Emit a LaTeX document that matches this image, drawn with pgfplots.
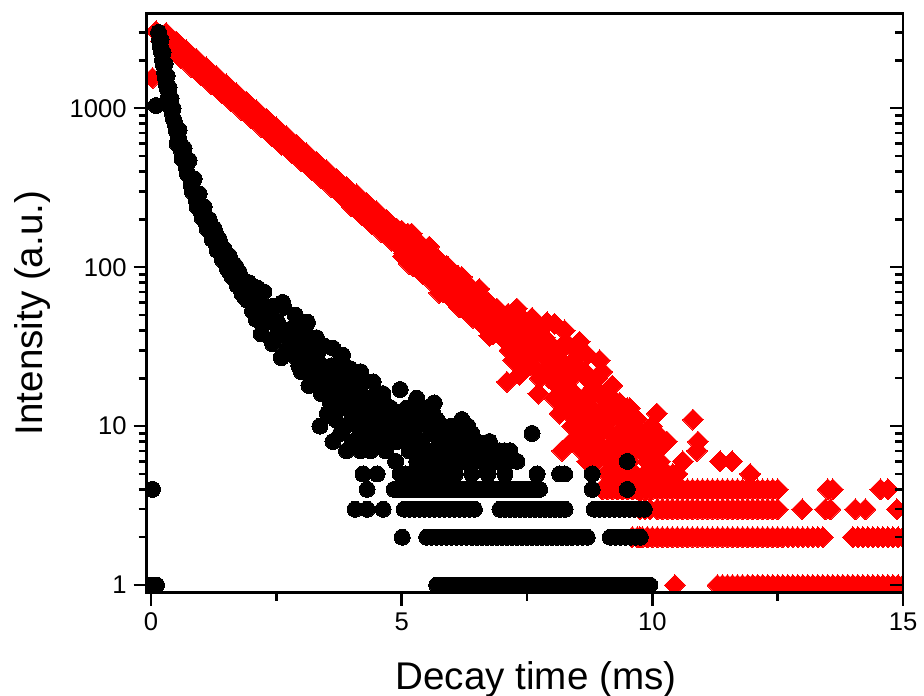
\documentclass[border=0pt]{standalone}
\usepackage{pgfplots}
\pgfplotsset{compat=1.18}
\usepackage{fontspec}
\setmainfont{Liberation Sans}
\begin{document}
\begin{tikzpicture}
\begin{axis}[scale only axis, width=378.15pt, height=289.7pt,
  xmin=-0.086, xmax=15, ymode=log, ymin=0.895, ymax=3960,
  axis line style={line width=1.4pt},
  tick style={line width=1.2pt, black},
  major tick length=6.5pt, minor tick length=4pt,
  ytick={1,10,100,1000},
  minor ytick={2,3,4,5,6,7,8,9,20,30,40,50,60,70,80,90,200,300,400,500,600,700,800,900,2000,3000},
  xtick={0,5,10,15}, minor xtick={2.5,7.5,12.5},
  yticklabels={1,10,100,1000},
  xtick pos=bottom, ytick pos=left, tick align=outside,
  tick label style={font=\fontsize{12.8}{15}\selectfont},
  /pgf/number format/assume math mode=true,
  xlabel={Decay time (ms)}, ylabel={Intensity (a.u.)},
  label style={font=\fontsize{19.3}{23}\selectfont},
  xlabel style={at={(axis description cs:0.5147,-0.1662)}, anchor=base},
  ylabel style={at={(axis description cs:-0.1384,0.4827)}, anchor=base},
  clip marker paths=true,
]
\coordinate (SW) at (rel axis cs:0,0);
\coordinate (NE) at (rel axis cs:1,1);
% red series (slow decay)
\addplot[only marks, mark=square*, mark size=3.7pt, mark options={rotate=45, draw=red, fill=red, line width=0pt}] coordinates {
(0.03,1550)
(0.10,3050)(0.15,2950)(0.25,2870)(0.35,2600)(0.45,2520)(0.50,2350)(0.55,2290)(0.65,2230)(0.75,2020)(0.85,1990)(0.95,1790)(1.00,1850)
(1.05,1740)(1.15,1580)(1.25,1540)(1.35,1400)(1.45,1360)(1.55,1230)(1.60,1150)(1.65,1200)(1.75,1090)(1.85,1060)(1.95,960)
(2.05,935)(2.10,960)(2.15,850)(2.25,830)(2.35,750)(2.45,730)(2.55,690)(2.60,590)(2.65,620)(2.75,610)(2.85,545)(2.95,540)
(3.05,480)(3.10,520)(3.15,475)(3.25,445)(3.35,400)(3.45,395)(3.55,350)(3.60,330)(3.65,348)(3.75,312)(3.85,308)(3.90,320)(3.95,275)
(4.05,272)(4.15,242)(4.25,240)(4.30,215)(4.35,226)(4.45,200)(4.55,200)(4.60,205)(4.65,178)(4.75,177)(4.85,155)(4.90,140)(4.95,158)
(0.2,2646)(0.3,2979)(0.4,2337)(0.5,2630)(0.6,2064)(0.7,2323)(0.8,1822)(0.9,2051)(1.0,1609)(1.1,1810)(1.2,1421)(1.3,1599)(1.4,1255)(1.5,1413)(1.6,1108)(1.7,1247)(1.8,978)(1.9,1101)
(2.0,865)(2.1,972)(2.2,763)(2.3,859)(2.4,673)(2.5,759)(2.6,595)(2.7,669)(2.8,525)(2.9,592)(3.0,464)(3.1,522)(3.2,410)(3.3,461)(3.4,362)(3.5,408)(3.6,319)(3.7,360)(3.8,282)(3.9,317)
(4.0,241)(4.1,288)(4.2,213)(4.3,254)(4.4,188)(4.5,225)(4.6,166)(4.7,198)(4.8,147)(4.9,175)
(5.00,170)(5.05,122)(5.10,145)(5.15,105)(5.20,163)(5.25,120)(5.30,107)(5.35,142)(5.40,92)(5.45,122)(5.50,99)(5.55,135)(5.60,84)(5.65,98)(5.70,112)(5.75,69)(5.80,96)(5.85,78)(5.90,102)(5.95,70)
(6.00,91)(6.05,65)(6.10,78)(6.15,56)(6.20,87)(6.25,64)(6.30,58)(6.35,76)(6.40,49)(6.45,66)(6.50,53)(6.55,73)(6.60,45)(6.65,53)(6.70,60)(6.75,37)(6.80,52)(6.85,42)(6.90,55)(6.95,38)
(5.025,117)(5.125,163)(5.225,102)(5.325,144)(5.425,90)(5.525,127)(5.625,80)(5.725,112)(5.825,70)(5.925,100)
(6.025,62)(6.125,88)(6.225,55)(6.325,77)(6.425,48)(6.525,68)(6.625,43)(6.725,60)(6.825,38)(6.925,53)
(7.00,49)(7.05,35)(7.10,42)(7.15,30)(7.20,47)(7.25,34)(7.30,31)(7.35,41)(7.40,26)(7.45,35)(7.50,29)(7.55,39)(7.60,24)(7.65,28)(7.70,32)(7.75,20)(7.80,28)(7.85,22)(7.90,30)(7.95,20)
(7.025,38)(7.125,51)(7.225,26)(7.325,38)(7.425,47)(7.525,24)(7.625,29)(7.725,16)(7.825,32)(7.925,23)
(8.025,20)(8.125,27)(8.225,14)(8.325,20)(8.425,25)(8.525,13)(8.625,15)(8.725,9)(8.825,17)(8.925,12)
(9.025,10)(9.125,13)(9.225,6)(9.325,9)(9.425,12)(9.525,6)(9.625,7)(9.725,4)(9.825,7)(9.925,5)
(8.00,32)(8.05,15)(8.10,24)(8.15,12)(8.20,32)(8.25,18)(8.30,14)(8.35,24)(8.40,10)(8.45,21)(8.50,13)(8.55,29)(8.60,10)(8.65,15)(8.70,20)(8.75,7)(8.80,16)(8.85,11)(8.90,20)(8.95,9)
(9.00,15)(9.05,7)(9.10,11)(9.15,6)(9.20,15)(9.25,8)(9.30,7)(9.35,11)(9.40,4)(9.45,9)(9.50,6)(9.55,13)(9.60,4)(9.65,7)(9.70,9)(9.75,3)(9.80,7)(9.85,5)(9.90,8)(9.95,4)
(7.1,19)(7.35,21)(7.3,55)(7.6,48)(7.9,45)(8.05,44)(8.25,40)(8.55,34)(8.2,7)(8.4,8)(8.6,7)(8.9,6)(9.0,22)(9.2,18)(9.5,13)(9.7,11)
(8.5,8)(8.7,6)(8.8,9)(9.05,10)(9.25,12)(9.4,7)(9.65,10)(9.9,6)(9.45,5)(9.2,5)(8.3,33)(8.7,28)(8.95,26)
(8.35,12)(8.45,16)(8.55,11)(8.65,22)(8.75,13)(8.85,8)(8.95,16)(9.05,13)(9.15,9)(9.25,7)(9.35,14)(9.45,8)(9.55,9)(9.65,5)(9.75,8)(9.85,9)(9.95,6)(8.1,18)(8.2,22)(8.0,26)(7.85,36)(7.75,40)(7.65,35)(8.45,30)
(9.0,4)(9.1,5)(9.3,4)(9.35,5)(9.5,4)(9.6,5)(9.7,4)(9.8,4)(9.85,3)(9.6,2)(9.75,2)(9.9,2)(9.95,3)(9.15,6)(9.55,6)
(10.09,12)(9.99,10)(10.09,9)(10.29,8)(10.81,11)(10.91,8)(10.89,7)(10.61,6)(10.41,5)(10.15,6)(11.35,6)(11.59,6)(11.95,5)(10.0,7)(10.05,6)(10.0,5)(10.2,5)(10.3,5)(10.5,5)(10.1,7)
(9.1,4)(9.2,4)(9.3,4)(9.4,4)(9.5,4)(9.6,4)(9.7,4)(9.8,4)(9.9,4)(10.0,4)(10.1,4)(10.2,4)(10.3,4)(10.4,4)(10.5,4)(10.6,4)(10.7,4)(10.8,4)(10.9,4)(11.0,4)(11.1,4)(11.2,4)(11.3,4)(11.4,4)(11.5,4)(11.6,4)(11.7,4)(11.8,4)(11.9,4)(12.0,4)(12.1,4)(12.2,4)(12.3,4)(12.4,4)(12.5,4)(13.5,4)(13.6,4)(14.55,4)(14.7,4)
(10.1,3)(10.2,3)(10.3,3)(10.4,3)(10.5,3)(10.6,3)(10.7,3)(10.8,3)(10.9,3)(11.0,3)(11.1,3)(11.2,3)(11.3,3)(11.4,3)(11.5,3)(11.6,3)(11.7,3)(11.8,3)(11.9,3)(12.0,3)(12.1,3)(12.2,3)(12.3,3)(12.4,3)(12.5,3)(12.99,3)(13.45,3)(13.55,3)(14.05,3)(14.25,3)(14.88,3)
(9.6,2)(9.7,2)(9.8,2)(9.9,2)(10.0,2)(10.1,2)(10.2,2)(10.3,2)(10.4,2)(10.5,2)(10.6,2)(10.7,2)(10.8,2)(10.9,2)(11.0,2)(11.1,2)(11.2,2)(11.3,2)(11.4,2)(11.5,2)(11.6,2)(11.7,2)(11.8,2)(11.9,2)(12.0,2)(12.1,2)(12.2,2)(12.3,2)(12.4,2)(12.5,2)(12.6,2)(12.7,2)(12.8,2)(12.9,2)(13.0,2)(13.1,2)(13.2,2)(13.3,2)(13.4,2)
(14.0,2)(14.1,2)(14.2,2)(14.3,2)(14.4,2)(14.5,2)(14.6,2)(14.7,2)(14.8,2)(14.9,2)(15.0,2)
(10.45,1)(11.3,1)(11.4,1)(11.5,1)(11.6,1)(11.7,1)(11.8,1)(11.9,1)(12.0,1)(12.1,1)(12.2,1)(12.3,1)(12.4,1)(12.5,1)(12.6,1)(12.7,1)(12.8,1)(12.9,1)(13.0,1)(13.1,1)(13.2,1)(13.3,1)(13.4,1)(13.5,1)(13.6,1)(13.7,1)(13.8,1)(13.9,1)(14.0,1)(14.1,1)(14.2,1)(14.3,1)(14.4,1)(14.5,1)(14.6,1)(14.7,1)(14.8,1)(14.9,1)(15.0,1)
};
% black series (fast decay)
\addplot[only marks, mark=*, mark size=4.0pt, mark options={draw=black, fill=black, line width=0pt}] coordinates {
(0.01,1)(0.11,1)(0.03,4)(0.10,1040)
(0.15,3000)(0.17,2700)(0.19,2430)(0.21,2240)(0.23,2010)(0.25,1860)(0.27,1680)(0.29,1550)(0.31,1400)(0.33,1310)(0.35,1190)(0.37,1120)(0.39,1020)(0.42,940)(0.45,850)(0.48,800)(0.50,730)
(0.20,2700)(0.24,2250)(0.28,1900)(0.32,1600)(0.36,1350)(0.40,1150)(0.44,1000)
(0.55,650)(0.60,550)(0.65,495)(0.70,430)(0.75,380)(0.80,330)(0.85,305)(0.90,265)(0.95,252)(1.00,222)(1.05,218)(1.10,190)(1.15,190)(1.20,165)(1.25,165)(1.30,140)(1.35,142)(1.40,120)(1.45,126)(1.50,105)
(1.55,110)(1.60,94)(1.65,98)(1.70,83)(1.75,88)(1.80,72)(1.85,79)(1.90,66)(1.95,70)(2.00,60)
(0.56,730)(0.66,560)(0.76,470)(0.86,360)(0.96,290)(1.06,240)(1.16,200)(1.26,175)(1.36,150)(1.46,130)(1.56,118)(1.66,104)(1.76,93)(1.86,82)(1.96,74)
(0.52,600)(0.62,480)(0.72,390)(0.82,300)(0.92,240)(1.02,205)(1.12,175)(1.22,150)(1.32,128)(1.42,112)(1.52,98)(1.62,87)(1.72,77)(1.82,68)(1.92,62)
(1.3,160)(1.55,95)(1.7,100)(1.85,66)(1.95,80)
(2.05,73)(2.10,47)(2.15,59)(2.20,38)(2.25,70)(2.30,45)(2.35,53)(2.40,35)(2.45,57)(2.50,37)(2.55,42)(2.60,27)(2.65,56)(2.70,36)(2.75,30)(2.80,41)(2.85,42)(2.90,27)(2.95,34)
(3.00,22)(3.05,40)(3.10,26)(3.15,31)(3.20,20)(3.25,33)(3.30,22)(3.35,25)(3.40,16)(3.45,32)(3.50,21)(3.55,17)(3.60,24)(3.65,24)(3.70,16)(3.75,20)(3.80,13)(3.85,23)(3.90,15)(3.95,18)
(4.00,12)(4.05,19)(4.10,12)(4.15,14)(4.20,9)(4.25,19)(4.30,13)(4.35,10)(4.40,14)(4.45,15)(4.50,9)(4.55,12)(4.60,8)(4.65,14)(4.70,9)(4.75,11)(4.80,8)(4.85,12)(4.90,8)(4.95,9)
(2.025,53)(2.125,74)(2.225,48)(2.325,56)(2.425,33)(2.525,45)(2.625,60)(2.725,30)(2.825,39)(2.925,31)
(3.025,26)(3.125,37)(3.225,24)(3.325,29)(3.425,17)(3.525,23)(3.625,31)(3.725,15)(3.825,19)(3.925,16)
(4.025,13)(4.125,19)(4.225,12)(4.325,15)(4.425,9)(4.525,12)(4.625,16)(4.725,8)(4.825,11)(4.925,9)
(3.3,36)(3.97,23)(4.43,19)(4.97,17)(5.43,13)(6.0,10)(7.6,9)(9.5,6)(3.9,7)(3.37,10)(3.63,8)
(3.52,12)(3.68,11)(3.78,9)(3.88,10)(4.02,8)(4.12,10)(4.18,7)(4.28,8)(4.38,7)(4.48,11)(4.58,10)(4.68,7)(4.78,13)(4.88,6)(3.58,14)(3.72,13)(3.82,28)(4.08,17)(4.18,22)(3.45,19)(3.15,18)(2.95,24)(2.88,50)(3.12,45)
(5.12,9)(5.22,12)(5.32,8)(5.42,11)(5.52,7)(5.62,12)(5.72,6)(5.82,10)(5.92,9)(6.02,7)(6.12,9)(6.22,6)(6.32,10)(6.5,8)(6.6,6)(6.7,7)(6.95,7)(7.1,6)(6.2,11)(5.3,15)(5.65,14)
(5.00,11)(5.05,8)(5.10,13)(5.15,7)(5.20,10)(5.25,9)(5.30,6)(5.35,12)(5.40,8)(5.45,7)(5.50,10)(5.55,6)(5.60,9)(5.65,7)(5.70,11)(5.75,8)(5.80,6)(5.85,9)(5.90,7)(5.95,8)
(6.00,6)(6.05,10)(6.10,7)(6.15,6)(6.20,8)(6.25,6)(6.30,7)(6.40,9)(6.45,6)(6.55,7)(6.65,6)(6.75,8)(6.90,6)(7.05,7)(7.3,6)(6.33,8)(6.56,7)(7.16,7)(6.8,6)
(4.23,5)(4.51,5)(4.97,5)(5.07,5)(5.17,5)(5.27,5)(5.37,5)(5.47,5)(5.57,5)(5.67,5)(5.77,5)(5.87,5)(5.97,5)(6.07,5)(6.4,5)(6.72,5)(7.06,5)(7.7,5)(8.15,5)(8.25,5)(8.8,5)
(4.31,4)(4.85,4)(4.95,4)(5.05,4)(5.15,4)(5.25,4)(5.35,4)(5.45,4)(5.55,4)(5.65,4)(5.75,4)(5.85,4)(5.95,4)(6.05,4)(6.15,4)(6.25,4)(6.35,4)(6.45,4)(6.55,4)(6.65,4)(6.75,4)(6.85,4)(6.95,4)(7.05,4)(7.15,4)(7.25,4)(7.35,4)(7.45,4)(7.55,4)(7.65,4)(7.75,4)(8.8,4)(9.5,4)
(4.07,3)(4.31,3)(4.63,3)(5.05,3)(5.15,3)(5.25,3)(5.35,3)(5.45,3)(5.55,3)(5.65,3)(5.75,3)(5.85,3)(5.95,3)(6.05,3)(6.15,3)(6.25,3)(6.35,3)(6.45,3)
(6.96,3)(7.06,3)(7.16,3)(7.26,3)(7.36,3)(7.46,3)(7.56,3)(7.66,3)(7.76,3)(7.86,3)(7.96,3)(8.06,3)(8.16,3)(8.26,3)
(8.84,3)(8.94,3)(9.04,3)(9.14,3)(9.24,3)(9.34,3)(9.44,3)(9.54,3)(9.64,3)(9.74,3)(9.84,3)
(5.01,2)(5.5,2)(5.6,2)(5.7,2)(5.8,2)(5.9,2)(6.0,2)(6.1,2)(6.2,2)(6.3,2)(6.4,2)(6.5,2)(6.6,2)(6.7,2)(6.8,2)(6.9,2)(7.0,2)(7.1,2)(7.2,2)(7.3,2)(7.4,2)(7.5,2)(7.6,2)(7.7,2)(7.8,2)(7.9,2)(8.0,2)(8.1,2)(8.2,2)(8.3,2)(8.4,2)(8.5,2)(8.6,2)(8.7,2)
(9.16,2)(9.26,2)(9.36,2)(9.46,2)(9.56,2)(9.66,2)(9.76,2)
(5.7,1)(5.8,1)(5.9,1)(6.0,1)(6.1,1)(6.2,1)(6.3,1)(6.4,1)(6.5,1)(6.6,1)(6.7,1)(6.8,1)(6.9,1)(7.0,1)(7.1,1)(7.2,1)(7.3,1)(7.4,1)(7.5,1)(7.6,1)(7.7,1)(7.8,1)(7.9,1)(8.0,1)(8.1,1)(8.2,1)(8.3,1)(8.4,1)(8.5,1)(8.6,1)(8.7,1)(8.8,1)(8.9,1)(9.0,1)(9.1,1)(9.2,1)(9.3,1)(9.4,1)(9.5,1)(9.6,1)(9.7,1)(9.8,1)(9.9,1)(9.95,1)
};
\end{axis}
\begin{axis}[scale only axis, width=378.15pt, height=289.7pt,
  xmin=-0.086, xmax=15, ymode=log, ymin=0.895, ymax=3960,
  axis line style={line width=1.4pt},
  tick style={line width=1.2pt, black},
  major tick length=6.5pt, minor tick length=4pt,
  ytick={1,10,100,1000},
  minor ytick={2,3,4,5,6,7,8,9,20,30,40,50,60,70,80,90,200,300,400,500,600,700,800,900,2000,3000},
  xtick=\empty, yticklabels={},
  ytick pos=right, tick align=inside,
]
\end{axis}
\pgfresetboundingbox
\path[use as bounding box] ([xshift=-73.35pt,yshift=-51.15pt]SW) rectangle ([xshift=10.5pt,yshift=6.65pt]NE);
\end{tikzpicture}
\end{document}
